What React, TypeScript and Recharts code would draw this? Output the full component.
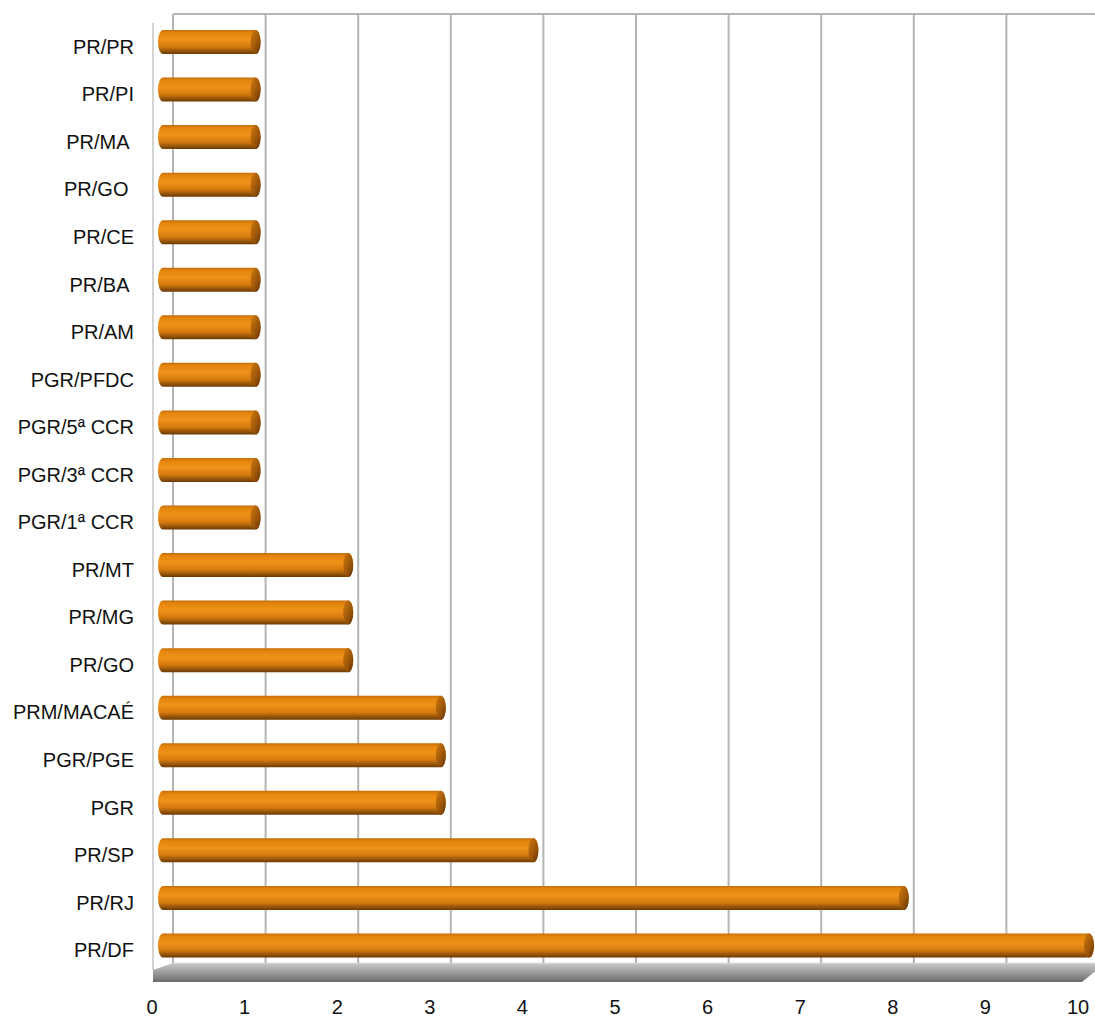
import React from 'react';
import { BarChart, Bar, XAxis, YAxis, CartesianGrid } from 'recharts';

const categories = [
  'PR/PR',
  'PR/PI',
  'PR/MA ',
  'PR/GO ',
  'PR/CE',
  'PR/BA ',
  'PR/AM',
  'PGR/PFDC',
  'PGR/5ª CCR',
  'PGR/3ª CCR',
  'PGR/1ª CCR',
  'PR/MT',
  'PR/MG',
  'PR/GO',
  'PRM/MACAÉ',
  'PGR/PGE',
  'PGR',
  'PR/SP',
  'PR/RJ',
  'PR/DF',
];

const counts = [1, 1, 1, 1, 1, 1, 1, 1, 1, 1, 1, 2, 2, 2, 3, 3, 3, 4, 8, 10];

const xTicks = [0, 1, 2, 3, 4, 5, 6, 7, 8, 9, 10];

const data = categories.map((name, i) => ({ name, value: counts[i] }));

const FONT = '"Liberation Sans", Arial, sans-serif';

// cylinder-like bar: rounded left end, body gradient, darker elliptical cap
function CylinderBar(props: any) {
  const { x, y, width, height } = props;
  if (width == null || height == null) return null;
  const h = height;
  const rx = 5;
  const left = x - 6;
  const right = x + width - 1;
  const body = `M ${left + rx} ${y} L ${right} ${y} A ${rx} ${h / 2} 0 0 1 ${right} ${y + h} L ${left + rx} ${y + h} A ${rx} ${h / 2} 0 0 1 ${left + rx} ${y} Z`;
  return (
    <g>
      <path d={body} fill="url(#barBody)" />
      <ellipse cx={right} cy={y + h / 2} rx={rx} ry={h / 2} fill="url(#barCap)" />
    </g>
  );
}

// back wall grid lines, left wall and the grey floor slab
function WallLine(props: any) {
  const { x1, y1, y2, index } = props;
  const gx = x1 + 9;
  const line = (
    <line
      key={`v-${index}`}
      x1={gx}
      y1={y1 - 4}
      x2={gx}
      y2={y2 - 6}
      stroke="#b4b4b4"
      strokeWidth={2}
    />
  );
  if (index !== 0) return line;
  const plotRight = (props.x ?? x1) + (props.width ?? 926);
  const floor = `M ${x1 - 11} ${y2 + 1} L ${x1 + 9} ${y2 - 6} L ${plotRight + 12} ${y2 - 6} L ${plotRight + 12} ${y2 - 3} L ${plotRight - 8} ${y2 + 13} L ${x1 - 11} ${y2 + 13} Z`;
  return (
    <g key="walls">
      <line x1={gx} y1={y1 - 4} x2={plotRight + 12} y2={y1 - 4} stroke="#b4b4b4" strokeWidth={2} />
      <line x1={x1 - 11} y1={y1 + 5} x2={x1 - 11} y2={y2 + 1} stroke="#c4c4c4" strokeWidth={1.5} />
      <path d={floor} fill="url(#floorGrad)" />
      <line x1={x1 + 9} y1={y2 - 6} x2={plotRight + 12} y2={y2 - 6} stroke="#e6e6e6" strokeWidth={1} />
      {line}
    </g>
  );
}

function CategoryTick(props: any) {
  const { x, y, payload } = props;
  return (
    <text
      x={x - 30}
      y={y + 12}
      textAnchor="end"
      fontFamily={FONT}
      fontSize={20}
      fill="#111"
      style={{ whiteSpace: 'pre' }}
    >
      {payload.value}
    </text>
  );
}

function ValueTick(props: any) {
  const { x, y, payload } = props;
  return (
    <text x={x - 12} y={y + 45} textAnchor="middle" fontFamily={FONT} fontSize={20} fill="#111">
      {payload.value}
    </text>
  );
}

export default function App() {
  return (
    <div style={{ position: 'absolute', left: 0, top: 0, width: 1095, height: 1019, background: '#fff' }}>
      <BarChart
        width={1095}
        height={1019}
        data={data}
        layout="vertical"
        margin={{ top: 18, right: 5, bottom: 0, left: 0 }}
        barSize={24}
      >
        <defs>
          <linearGradient id="barBody" x1="0" y1="0" x2="0" y2="1">
            <stop offset="0%" stopColor="#c46c08" />
            <stop offset="12%" stopColor="#e4860e" />
            <stop offset="40%" stopColor="#f0921a" />
            <stop offset="70%" stopColor="#d47a0e" />
            <stop offset="100%" stopColor="#6a3a06" />
          </linearGradient>
          <linearGradient id="barCap" x1="0" y1="0" x2="1" y2="1">
            <stop offset="0%" stopColor="#d07a10" />
            <stop offset="60%" stopColor="#9a5408" />
            <stop offset="100%" stopColor="#5e3204" />
          </linearGradient>
          <linearGradient id="floorGrad" x1="0" y1="0" x2="0" y2="1">
            <stop offset="0%" stopColor="#c8c8c8" />
            <stop offset="40%" stopColor="#a6a6a6" />
            <stop offset="100%" stopColor="#6c6c6c" />
          </linearGradient>
        </defs>
        <CartesianGrid horizontal={false} vertical={WallLine as any} />
        <XAxis
          type="number"
          domain={[0, 10]}
          ticks={xTicks}
          axisLine={false}
          tickLine={false}
          tickSize={0}
          tickMargin={0}
          height={50}
          tick={<ValueTick />}
          interval={0}
        />
        <YAxis
          type="category"
          dataKey="name"
          width={164}
          axisLine={false}
          tickLine={false}
          tickSize={0}
          tickMargin={0}
          tick={<CategoryTick />}
          interval={0}
        />
        <Bar dataKey="value" shape={<CylinderBar />} isAnimationActive={false} />
      </BarChart>
    </div>
  );
}
